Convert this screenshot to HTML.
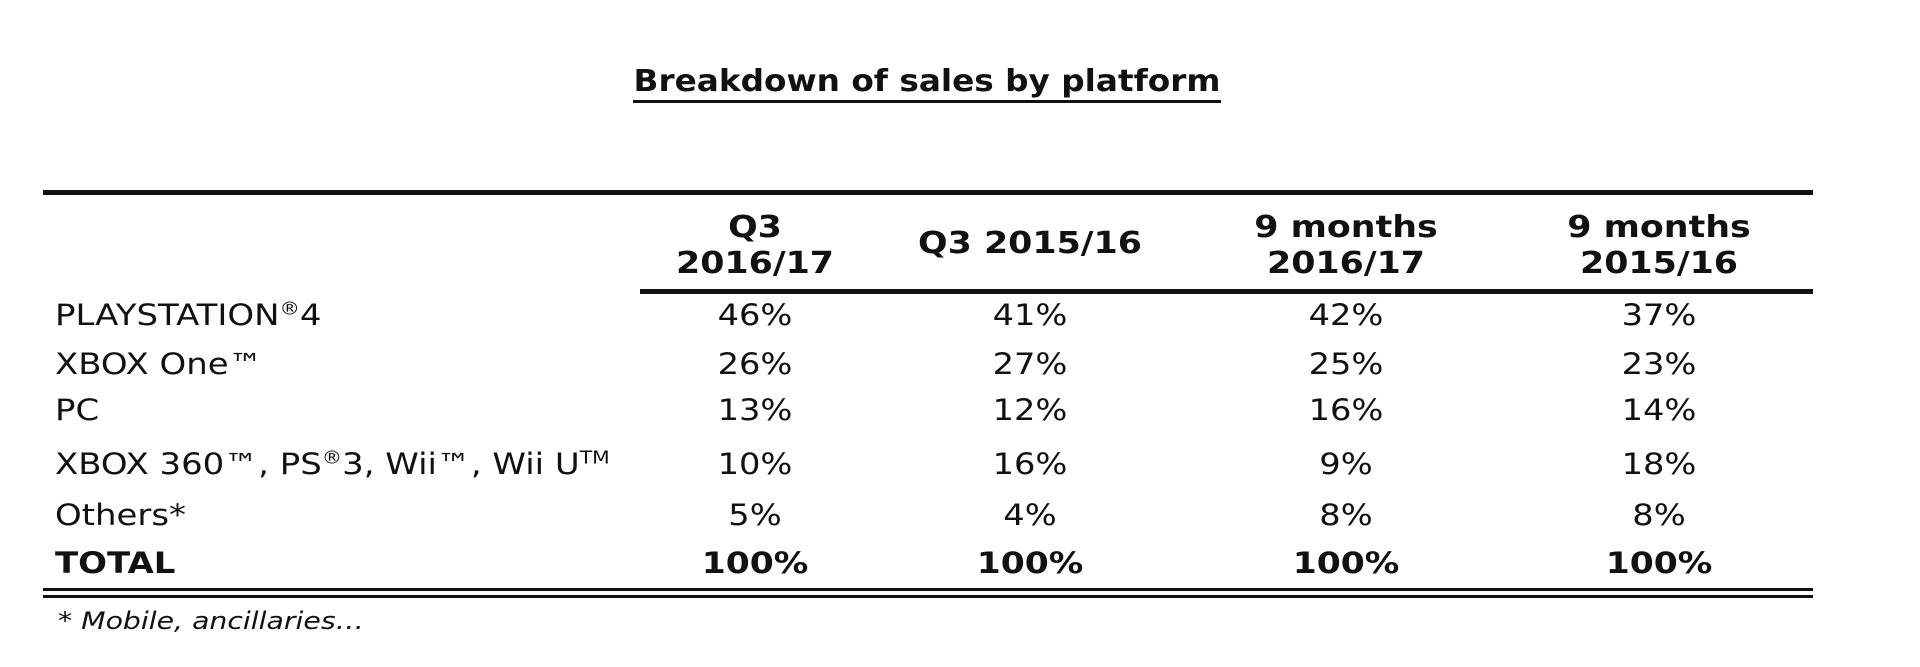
<!DOCTYPE html>
<html><head><meta charset="utf-8">
<style>
html,body{margin:0;padding:0;background:#fff;}
body{width:1920px;height:667px;position:relative;overflow:hidden;font-family:"DejaVu Sans","Liberation Sans",sans-serif;color:#111;}
.abs{position:absolute;white-space:nowrap;}
.c{transform:translateX(-50%) scaleX(1.16);text-align:center;}
.title{left:927px;top:64px;font-size:30px;font-weight:bold;transform:translateX(-50%) scaleX(1.09);}
.uline{position:absolute;background:#111;}
.hdr{font-size:30px;font-weight:bold;line-height:36px;}
.cell{font-size:29px;line-height:36px;}
.cell.bold{transform:translateX(-50%) scaleX(1.19);}
.lab{font-size:29px;line-height:36px;left:55px;transform:scaleX(1.17);transform-origin:0 0;}
.bold{font-weight:bold;}
sup{font-size:60%;vertical-align:0.6em;line-height:0;}
.foot{left:58px;top:607px;font-size:24px;font-style:italic;transform:scaleX(1.18);transform-origin:0 0;}
</style></head><body>
<div class="abs title">Breakdown of sales by platform</div>
<div class="uline" style="left:633px;top:100px;width:588px;height:3px;"></div>
<div class="uline" style="left:43px;top:190px;width:1770px;height:5px;"></div>
<div class="uline" style="left:640px;top:289px;width:1173px;height:5px;"></div>
<div class="uline" style="left:43px;top:588px;width:1770px;height:3px;"></div>
<div class="uline" style="left:43px;top:595px;width:1770px;height:3px;"></div>
<div class="abs foot">* Mobile, ancillaries…</div>
<div id="tbl"></div>
<script>
const columns = ["Q3<br>2016/17", "Q3 2015/16", "9 months<br>2016/17", "9 months<br>2015/16"];
const rowLabels = ["PLAYSTATION<sup>®</sup>4", "XBOX One™", "PC", "XBOX 360™, PS<sup>®</sup>3, Wii™, Wii U<sup>TM</sup>", "Others*", "TOTAL"];
const q3_2016 = [46, 26, 13, 10, 5, 100];
const q3_2015 = [41, 27, 12, 16, 4, 100];
const nine_2016 = [42, 25, 16, 9, 8, 100];
const nine_2015 = [37, 23, 14, 18, 8, 100];
const series = [q3_2016, q3_2015, nine_2016, nine_2015];
const colX = [755, 1030, 1346, 1659];
const rowY = [315, 364, 410, 464, 515, 563];
const tbl = document.getElementById('tbl');
columns.forEach((c, i) => {
  const d = document.createElement('div');
  d.className = 'abs c hdr';
  
  
  d.style.left = colX[i] + 'px';
  const twoLine = c.indexOf('<br>') >= 0;
  d.style.top = (twoLine ? 210 : 226) + 'px';
  d.innerHTML = c;
  tbl.appendChild(d);
});
rowLabels.forEach((l, r) => {
  const isTotal = r === rowLabels.length - 1;
  const d = document.createElement('div');
  d.className = 'abs lab' + (isTotal ? ' bold' : '');
  
  
  d.style.top = (rowY[r] - 18) + 'px';
  d.innerHTML = l;
  tbl.appendChild(d);
  series.forEach((s, i) => {
    const v = document.createElement('div');
    v.className = 'abs c cell' + (isTotal ? ' bold' : '');
    
    
    v.style.left = colX[i] + 'px';
    v.style.top = (rowY[r] - 18) + 'px';
    v.textContent = s[r] + '%';
    tbl.appendChild(v);
  });
});
</script>
</body></html>
